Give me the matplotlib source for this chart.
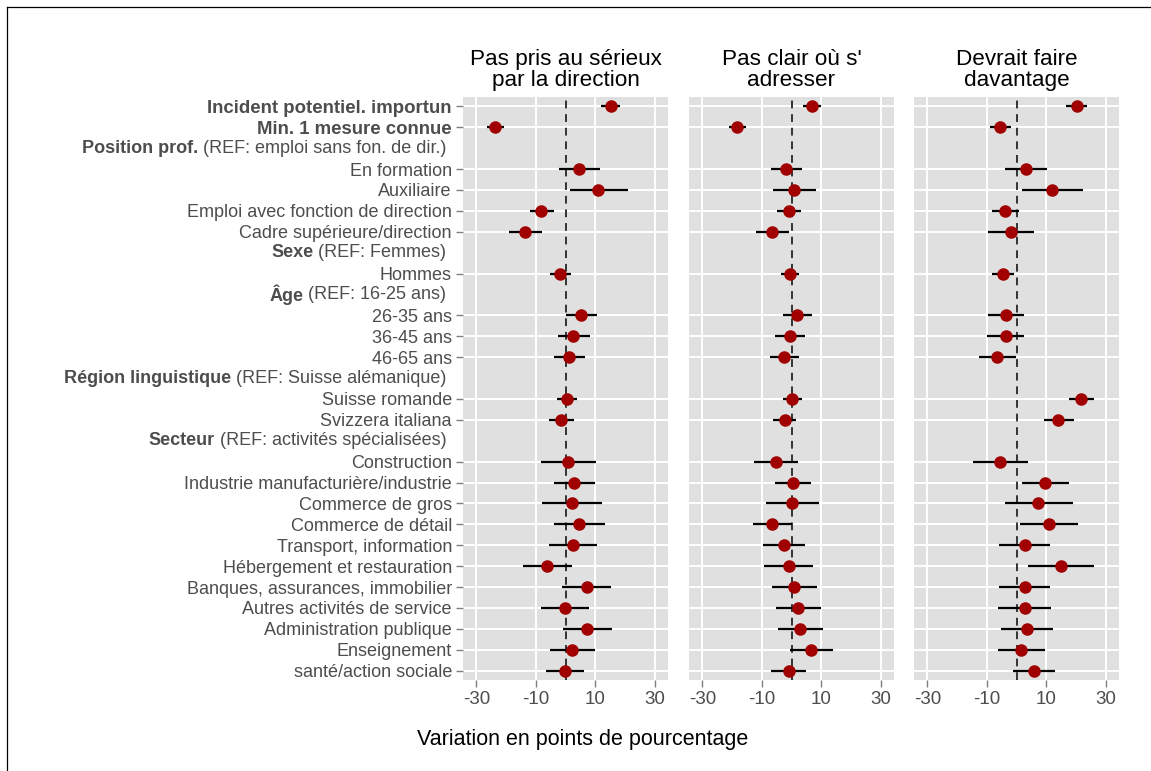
import matplotlib
matplotlib.use("Agg")
import matplotlib.pyplot as plt

plt.rcParams['font.family'] = ['Liberation Sans', 'DejaVu Sans']

# ---- data ----
rows = [
    ("item", "Incident potentiel. importun", True),
    ("item", "Min. 1 mesure connue", True),
    ("head", ("Position prof.", "(REF: emploi sans fon. de dir.)"), None),
    ("item", "En formation", False),
    ("item", "Auxiliaire", False),
    ("item", "Emploi avec fonction de direction", False),
    ("item", "Cadre supérieure/direction", False),
    ("head", ("Sexe", "(REF: Femmes)"), None),
    ("item", "Hommes", False),
    ("head", ("Âge", "(REF: 16-25 ans)"), None),
    ("item", "26-35 ans", False),
    ("item", "36-45 ans", False),
    ("item", "46-65 ans", False),
    ("head", ("Région linguistique", "(REF: Suisse alémanique)"), None),
    ("item", "Suisse romande", False),
    ("item", "Svizzera italiana", False),
    ("head", ("Secteur", "(REF: activités spécialisées)"), None),
    ("item", "Construction", False),
    ("item", "Industrie manufacturière/industrie", False),
    ("item", "Commerce de gros", False),
    ("item", "Commerce de détail", False),
    ("item", "Transport, information", False),
    ("item", "Hébergement et restauration", False),
    ("item", "Banques, assurances, immobilier", False),
    ("item", "Autres activités de service", False),
    ("item", "Administration publique", False),
    ("item", "Enseignement", False),
    ("item", "santé/action sociale", False),
]

panel_titles = ["Pas pris au sérieux\npar la direction",
                "Pas clair où s'\nadresser",
                "Devrait faire\ndavantage"]

# estimates for the 23 item rows, in order
est_1 = [15.2, -23.6, 4.6, 11.1, -8.2, -13.5, -1.7, 5.3, 2.6, 1.1, 0.6, -1.5,
         0.9, 2.9, 2.2, 4.6, 2.6, -6.2, 7.1, -0.3, 7.4, 2.2, -0.3]
lo_1 = [12.1, -26.4, -2.2, 1.6, -12.1, -19.0, -5.2, 0.3, -2.6, -3.9, -3.0, -5.6,
        -8.3, -3.9, -7.8, -3.9, -5.4, -14.4, -1.3, -8.2, -0.9, -5.2, -6.6]
hi_1 = [18.2, -20.8, 11.7, 20.9, -3.9, -7.9, 1.9, 10.6, 8.1, 6.5, 4.0, 2.8,
        10.1, 9.9, 12.4, 13.3, 10.7, 2.1, 15.4, 7.9, 15.8, 9.9, 6.2]

est_2 = [6.8, -18.4, -1.8, 0.9, -0.9, -6.6, -0.6, 1.9, -0.6, -2.4, 0.2, -2.2,
         -5.2, 0.6, 0.3, -6.5, -2.5, -0.9, 1.0, 2.2, 3.0, 6.6, -1.0]
lo_2 = [4.0, -21.1, -7.0, -6.3, -4.9, -12.1, -3.7, -2.8, -5.4, -7.1, -3.0, -6.1,
        -12.6, -5.7, -8.7, -13.0, -9.5, -9.2, -6.4, -5.3, -4.6, -0.6, -6.8]
hi_2 = [9.9, -15.4, 3.6, 8.3, 3.3, -0.9, 2.6, 6.8, 4.5, 2.4, 3.6, 1.5,
        2.2, 6.7, 9.2, 0.0, 4.5, 7.4, 8.6, 9.8, 10.7, 13.9, 4.9]

est_3 = [20.2, -5.5, 3.1, 12.0, -3.8, -1.9, -4.5, -3.7, -3.7, -6.4, 21.8, 14.1,
         -5.5, 9.7, 7.3, 10.9, 2.7, 15.0, 2.8, 2.7, 3.6, 1.6, 5.8]
lo_3 = [16.8, -9.0, -3.8, 1.8, -8.4, -9.6, -8.2, -9.6, -9.8, -12.7, 17.7, 9.1,
        -14.8, 2.0, -4.0, 1.2, -5.9, 3.9, -5.8, -6.2, -5.2, -6.2, -1.2]
hi_3 = [23.6, -1.8, 10.1, 22.4, 0.9, 6.0, -0.7, 2.4, 2.6, -0.2, 26.1, 19.3,
        3.8, 17.6, 18.9, 20.7, 11.3, 26.2, 11.3, 11.6, 12.3, 9.7, 13.1]

series = [(est_1, lo_1, hi_1), (est_2, lo_2, hi_2), (est_3, lo_3, hi_3)]
xticks = [-30, -10, 10, 30]

# ---- layout ----
W, H = 1151, 771
fig = plt.figure(figsize=(W / 100, H / 100), dpi=100)
fig.patch.set_facecolor("white")

# border (top + left)
fig.add_artist(plt.Line2D([7 / W, 7 / W], [0, 1 - 7 / H], transform=fig.transFigure, color="black", lw=0.9))
fig.add_artist(plt.Line2D([7 / W, 1], [1 - 7 / H, 1 - 7 / H], transform=fig.transFigure, color="black", lw=0.9))

lefts = [463, 689, 914]
pw = 205
top, bottom = 97, 680
gray_txt = "#4d4d4d"
lab_fs = 13
item_pos = [i for i, r in enumerate(rows) if r[0] == "item"]
item_labels = [r[1] for r in rows if r[0] == "item"]
item_bold = [r[2] for r in rows if r[0] == "item"]

axes = []
for k in range(3):
    ax = fig.add_axes([lefts[k] / W, 1 - bottom / H, pw / W, (bottom - top) / H])
    axes.append(ax)
    ax.set_facecolor("#E0E0E0")
    for s in ax.spines.values():
        s.set_visible(False)
    ax.set_xlim(-34.5, 34.5)
    ax.set_ylim(len(rows) - 0.55, -0.45)
    ax.set_xticks(xticks)
    ax.set_xticklabels([str(t) for t in xticks], color=gray_txt, fontsize=13.5)
    ax.set_yticks(item_pos)
    ax.grid(True, color="white", lw=1.4)
    ax.set_axisbelow(True)
    ax.tick_params(axis="x", colors="#7f7f7f", length=5, width=1, pad=3, labelcolor=gray_txt)
    ax.tick_params(axis="y", colors="#7f7f7f", length=5, width=1, pad=3)
    if k == 0:
        ax.set_yticklabels(item_labels, fontsize=lab_fs, color=gray_txt)
        for lab, b in zip(ax.get_yticklabels(), item_bold):
            if b:
                lab.set_fontweight("bold")
                lab.set_fontsize(13.4)
    else:
        ax.set_yticklabels([])
        ax.tick_params(axis="y", length=0)

    ax.axvline(0, color="#333333", lw=1.4, ls=(0, (4, 3)), zorder=2)
    est, lo, hi = series[k]
    ax.hlines(item_pos, lo, hi, color="black", lw=1.6, zorder=3)
    ax.plot(est, item_pos, "o", color="#A00000", ms=8, mec="#A00000", zorder=4)
    ax.set_title(panel_titles[k], fontsize=16.2, color="black", pad=8, linespacing=1.0)

# header labels on first axes
ax0 = axes[0]
for i, r in enumerate(rows):
    if r[0] == "head":
        bold, normal = r[1]
        t = ax0.annotate(normal, xy=(0, i), xycoords=("axes fraction", "data"),
                         xytext=(-12, 0), textcoords="offset points",
                         ha="right", va="center", fontsize=lab_fs, color=gray_txt,
                         annotation_clip=False)
        ax0.annotate(bold, xy=(0, 0.5), xycoords=t, xytext=(-3.5, 0),
                     textcoords="offset points", ha="right", va="center",
                     fontsize=lab_fs, fontweight="bold", color=gray_txt,
                     annotation_clip=False)

fig.text(583 / W, 1 - 739 / H, "Variation en points de pourcentage",
         ha="center", va="center", fontsize=15.5, color="black")

fig.savefig("out.png", dpi=100)
